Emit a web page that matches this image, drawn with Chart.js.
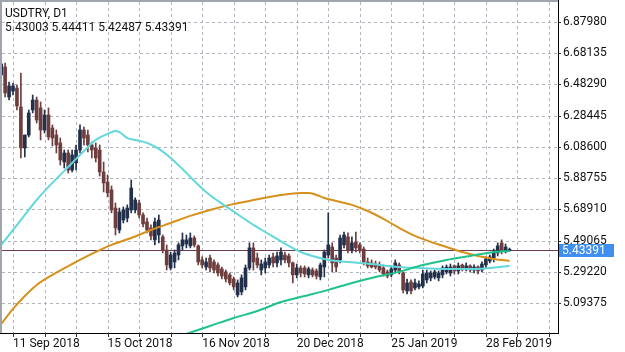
<!DOCTYPE html>
<html><head><meta charset="utf-8">
<script src="https://cdn.jsdelivr.net/npm/chart.js@4.4.0/dist/chart.umd.min.js"></script>
<style>html,body{margin:0;padding:0;background:#fff;overflow:hidden}#wrap{position:relative;width:625px;height:352px}</style>
</head><body><div id="wrap"><canvas id="c" width="625" height="352"></canvas></div>
<script>
const symbolTitle = 'USDTRY, D1';
const firstIndex = -3; // bar index of the first visible candle (0 = 11 Sep 2018)

const open = [
 6.542, 6.593, 6.402,
 6.440, 6.459, 6.339, 6.079, 6.161, 6.320, 6.383, 6.333, 6.193, 6.288,
 6.206, 6.161, 6.111, 5.990, 6.047, 5.939, 5.984, 6.066, 6.193, 6.161,
 6.098, 6.079, 6.066, 5.927, 5.863, 5.813, 5.698, 5.559, 5.622, 5.635,
 5.686, 5.686, 5.730, 5.654, 5.610, 5.572, 5.496, 5.527, 5.515, 5.432,
 5.318, 5.356, 5.400, 5.458, 5.470, 5.458, 5.508, 5.458, 5.369, 5.324,
 5.381, 5.356, 5.337, 5.312, 5.293, 5.274, 5.248, 5.147, 5.166, 5.198,
 5.318, 5.445, 5.381, 5.305, 5.318, 5.337, 5.388, 5.350, 5.369, 5.400,
 5.394, 5.350, 5.274, 5.318, 5.318, 5.274, 5.305, 5.299, 5.261, 5.324,
 5.400, 5.451, 5.381, 5.369, 5.464, 5.515, 5.432, 5.483, 5.464, 5.438,
 5.356, 5.350, 5.343, 5.337, 5.318, 5.293, 5.274, 5.305, 5.337, 5.286,
 5.172, 5.229, 5.191, 5.198, 5.204, 5.242, 5.255, 5.261, 5.255, 5.274,
 5.293, 5.286, 5.331, 5.299, 5.337, 5.312, 5.331, 5.305, 5.324, 5.305,
 5.337, 5.362, 5.381, 5.413, 5.477, 5.426, 5.43003
];
const high = [
 6.637, 6.618, 6.497,
 6.491, 6.478, 6.554, 6.161, 6.320, 6.415, 6.402, 6.371, 6.320, 6.333,
 6.225, 6.193, 6.142, 6.066, 6.066, 6.066, 6.098, 6.225, 6.212, 6.193,
 6.117, 6.111, 6.098, 5.990, 5.908, 5.838, 5.730, 5.698, 5.705, 5.718,
 5.876, 5.762, 5.749, 5.667, 5.635, 5.591, 5.635, 5.654, 5.527, 5.464,
 5.419, 5.432, 5.477, 5.540, 5.527, 5.540, 5.521, 5.464, 5.388, 5.381,
 5.400, 5.369, 5.350, 5.324, 5.305, 5.286, 5.261, 5.242, 5.274, 5.337,
 5.477, 5.477, 5.413, 5.369, 5.381, 5.400, 5.413, 5.419, 5.445, 5.419,
 5.407, 5.356, 5.343, 5.331, 5.331, 5.324, 5.318, 5.312, 5.350, 5.432,
 5.667, 5.477, 5.400, 5.527, 5.546, 5.540, 5.515, 5.546, 5.477, 5.451,
 5.381, 5.369, 5.362, 5.356, 5.337, 5.305, 5.331, 5.369, 5.350, 5.293,
 5.248, 5.242, 5.248, 5.236, 5.305, 5.305, 5.299, 5.305, 5.299, 5.331,
 5.337, 5.343, 5.337, 5.350, 5.343, 5.350, 5.337, 5.337, 5.331, 5.356,
 5.388, 5.400, 5.438, 5.477, 5.496, 5.470, 5.44411
];
const low = [
 6.523, 6.402, 6.383,
 6.415, 6.320, 6.016, 6.022, 6.149, 6.301, 6.237, 6.130, 6.174, 6.130,
 6.092, 6.047, 5.971, 5.952, 5.920, 5.927, 5.939, 6.047, 6.098, 6.054,
 6.016, 5.990, 5.901, 5.800, 5.768, 5.667, 5.527, 5.540, 5.603, 5.610,
 5.667, 5.667, 5.635, 5.578, 5.540, 5.496, 5.464, 5.477, 5.413, 5.305,
 5.305, 5.318, 5.369, 5.432, 5.445, 5.445, 5.451, 5.337, 5.318, 5.305,
 5.293, 5.286, 5.267, 5.248, 5.229, 5.210, 5.179, 5.134, 5.147, 5.179,
 5.305, 5.305, 5.318, 5.274, 5.286, 5.318, 5.324, 5.324, 5.337, 5.350,
 5.324, 5.223, 5.255, 5.261, 5.261, 5.255, 5.261, 5.248, 5.242, 5.261,
 5.381, 5.293, 5.293, 5.350, 5.445, 5.413, 5.413, 5.419, 5.413, 5.337,
 5.318, 5.318, 5.312, 5.293, 5.267, 5.255, 5.261, 5.286, 5.280, 5.159,
 5.153, 5.153, 5.179, 5.185, 5.191, 5.223, 5.236, 5.248, 5.236, 5.255,
 5.280, 5.267, 5.280, 5.280, 5.299, 5.299, 5.293, 5.286, 5.280, 5.293,
 5.318, 5.350, 5.356, 5.394, 5.407, 5.413, 5.42487
];
const close = [
 6.612, 6.428, 6.472,
 6.472, 6.345, 6.079, 6.161, 6.301, 6.383, 6.256, 6.193, 6.288, 6.149,
 6.142, 6.098, 6.003, 6.047, 5.939, 6.035, 6.066, 6.193, 6.142, 6.098,
 6.066, 6.016, 5.927, 5.857, 5.794, 5.686, 5.572, 5.673, 5.686, 5.698,
 5.825, 5.749, 5.654, 5.597, 5.559, 5.521, 5.610, 5.622, 5.432, 5.337,
 5.400, 5.413, 5.464, 5.496, 5.496, 5.508, 5.464, 5.356, 5.337, 5.356,
 5.318, 5.305, 5.286, 5.267, 5.248, 5.223, 5.198, 5.223, 5.255, 5.318,
 5.445, 5.356, 5.337, 5.343, 5.356, 5.381, 5.350, 5.394, 5.419, 5.369,
 5.350, 5.274, 5.318, 5.286, 5.280, 5.312, 5.274, 5.267, 5.337, 5.419,
 5.464, 5.350, 5.324, 5.508, 5.527, 5.432, 5.477, 5.445, 5.432, 5.356,
 5.331, 5.324, 5.324, 5.305, 5.280, 5.267, 5.312, 5.350, 5.299, 5.179,
 5.223, 5.172, 5.223, 5.217, 5.280, 5.286, 5.286, 5.293, 5.286, 5.318,
 5.324, 5.324, 5.299, 5.331, 5.312, 5.331, 5.305, 5.324, 5.299, 5.343,
 5.375, 5.388, 5.419, 5.458, 5.426, 5.451, 5.43391
];

// moving averages (bar index -> value)
const cyanIdx = [-3, 0, 3, 6, 9, 12, 15, 18, 21, 24, 26, 27, 29, 31, 34, 37, 40, 43, 46, 49, 52, 55, 58, 61, 64, 67, 70, 73, 76, 79, 82, 85, 88, 91, 94, 97, 100, 103, 106, 109, 112, 115, 118, 121, 124, 126];
const cyanVal = [5.464, 5.559, 5.654, 5.749, 5.832, 5.908, 5.984, 6.060, 6.130, 6.168, 6.187, 6.180, 6.142, 6.130, 6.111, 6.073, 6.016, 5.946, 5.870, 5.800, 5.743, 5.692, 5.641, 5.591, 5.546, 5.502, 5.458, 5.419, 5.394, 5.375, 5.362, 5.356, 5.350, 5.343, 5.334, 5.326, 5.320, 5.318, 5.314, 5.312, 5.312, 5.312, 5.312, 5.318, 5.326, 5.331];
const orangeIdx = [-3, 0, 3, 6, 10, 15, 20, 25, 30, 35, 40, 45, 50, 55, 60, 65, 70, 73, 75, 77, 79, 82, 86, 90, 94, 98, 102, 106, 110, 114, 118, 122, 126];
const orangeVal = [4.963, 5.058, 5.140, 5.210, 5.274, 5.343, 5.407, 5.464, 5.508, 5.559, 5.603, 5.648, 5.686, 5.718, 5.743, 5.768, 5.787, 5.794, 5.794, 5.781, 5.762, 5.743, 5.718, 5.679, 5.629, 5.572, 5.521, 5.483, 5.451, 5.419, 5.394, 5.375, 5.362];
const greenIdx = [44, 50, 56, 62, 68, 74, 80, 86, 92, 98, 104, 110, 116, 122, 126];
const greenVal = [4.900, 4.950, 5.001, 5.045, 5.102, 5.140, 5.179, 5.223, 5.261, 5.293, 5.337, 5.369, 5.394, 5.419, 5.426];

const yTicks = [5.09375, 5.29220, 5.49065, 5.68910, 5.88755, 6.08600, 6.28445, 6.48290, 6.68135, 6.87980];
const xGridIndex = [0, 8, 16, 24, 32, 40, 48, 56, 64, 72, 80, 88, 96, 104, 112, 120, 128, 136];
const dateTickIndex = [0, 24, 48, 72, 96, 120];
const dateTickLabels = ['11 Sep 2018', '15 Oct 2018', '16 Nov 2018', '20 Dec 2018', '25 Jan 2019', '28 Feb 2019'];

const BULL = '#22304c', BEAR = '#6e3d3d';
const n = open.length;
const idx = open.map((_, k) => firstIndex + k);
const candleColors = open.map((o, k) => close[k] >= o ? BULL : BEAR);
const lastClose = close[n - 1];
const FONT = 'Roboto, "Noto Sans", sans-serif';

const decor = {
  id: 'decor',
  beforeDatasetsDraw(chart) {
    const ctx = chart.ctx, a = chart.chartArea;
    const xs = chart.scales.x, ys = chart.scales.y;
    ctx.save();
    ctx.fillStyle = 'rgb(176,180,188)';
    for (const v of xGridIndex) {
      const px = Math.round(xs.getPixelForValue(v));
      for (let yy = a.top + 2; yy < a.bottom; yy += 6) ctx.fillRect(px, yy, 1, Math.min(3, a.bottom - yy));
    }
    for (const v of yTicks) {
      const py = Math.round(ys.getPixelForValue(v));
      for (let xx = a.left + 2; xx < a.right; xx += 6) ctx.fillRect(xx, py, Math.min(3, a.right - xx), 1);
    }
    ctx.fillStyle = 'rgb(40,44,52)';
    for (const v of xGridIndex) {
      const px = Math.round(xs.getPixelForValue(v));
      ctx.fillRect(px, a.bottom, 1, 4);
    }
    for (const v of yTicks) {
      const py = Math.round(ys.getPixelForValue(v));
      ctx.fillRect(a.right, py, 3, 1);
    }
    ctx.fillStyle = '#6e3c52';
    ctx.fillRect(a.left, Math.round(ys.getPixelForValue(lastClose)), a.right - a.left, 1);
    ctx.restore();
  },
  afterDraw(chart) {
    const ctx = chart.ctx, a = chart.chartArea, ys = chart.scales.y;
    ctx.save();
    ctx.fillStyle = 'rgb(160,164,172)';
    ctx.fillRect(a.left, 0, a.right - a.left, 2);
    ctx.fillRect(0, 0, 2, a.bottom);
    ctx.fillStyle = '#111';
    ctx.font = '12px ' + FONT;
    ctx.textBaseline = 'middle';
    ctx.textAlign = 'left';
    ctx.fillText(symbolTitle, 5, 14);
    const last = n - 1;
    ctx.fillText([open[last], high[last], low[last], close[last]].map(v => v.toFixed(5)).join(' '), 5, 28);
    const py = ys.getPixelForValue(lastClose);
    ctx.fillStyle = '#3f8ff0';
    ctx.fillRect(a.right + 1, Math.round(py) - 6, 55, 13);
    ctx.fillStyle = '#ffffff';
    ctx.fillText(lastClose.toFixed(5), a.right + 4, Math.round(py) + 0.5);
    ctx.restore();
  }
};

new Chart(document.getElementById('c'), {
  type: 'bar',
  data: {
    datasets: [
      { type: 'line', label: 'MA green', data: greenIdx.map((x, k) => ({x, y: greenVal[k]})), borderColor: '#1fc38a', borderWidth: 2, pointRadius: 0, cubicInterpolationMode: 'monotone', order: 0 },
      { type: 'line', label: 'MA cyan', data: cyanIdx.map((x, k) => ({x, y: cyanVal[k]})), borderColor: '#62d8dc', borderWidth: 2, pointRadius: 0, cubicInterpolationMode: 'monotone', order: 1 },
      { type: 'line', label: 'MA orange', data: orangeIdx.map((x, k) => ({x, y: orangeVal[k]})), borderColor: '#d8901c', borderWidth: 2, pointRadius: 0, cubicInterpolationMode: 'monotone', order: 2 },
      { type: 'bar', label: 'body', data: idx.map((x, k) => ({x, y: [Math.min(open[k], close[k]), Math.max(open[k], close[k])]})), backgroundColor: candleColors, barThickness: 3, minBarLength: 1, grouped: false, borderWidth: 0, order: 3 },
      { type: 'bar', label: 'wick', data: idx.map((x, k) => ({x, y: [low[k], high[k]]})), backgroundColor: candleColors, barThickness: 1, grouped: false, borderWidth: 0, order: 4 }
    ]
  },
  options: {
    responsive: false, animation: false, devicePixelRatio: 1, events: [],
    layout: { padding: 0 },
    plugins: { legend: { display: false }, tooltip: { enabled: false } },
    scales: {
      x: {
        type: 'linear', min: -3.3, max: 138.3, offset: false,
        afterBuildTicks: s => { s.ticks = xGridIndex.map(v => ({value: v})); },
        ticks: { autoSkip: false, maxRotation: 0, align: 'start', padding: 0, color: '#111', font: { family: FONT, size: 12 },
          callback: v => { const k = dateTickIndex.indexOf(v); return k >= 0 ? dateTickLabels[k] : ''; } },
        grid: { display: false, offset: false, drawTicks: true, tickLength: 4 },
        border: { display: true, color: '#000', width: 1 },
        afterFit: s => { s.height = 19; s.paddingLeft = 0; s.paddingRight = 0; }
      },
      y: {
        position: 'right', min: 4.9054, max: 7.0174,
        afterBuildTicks: s => { s.ticks = yTicks.map(v => ({value: v})); },
        ticks: { autoSkip: false, padding: 2, color: '#111', font: { family: FONT, size: 12 }, callback: v => v.toFixed(5) },
        grid: { display: false, drawTicks: true, tickLength: 3 },
        border: { display: true, color: '#000', width: 1 },
        afterFit: s => { s.width = 67; s.paddingTop = 0; s.paddingBottom = 0; }
      }
    }
  },
  plugins: [decor]
});
</script>
</body></html>
